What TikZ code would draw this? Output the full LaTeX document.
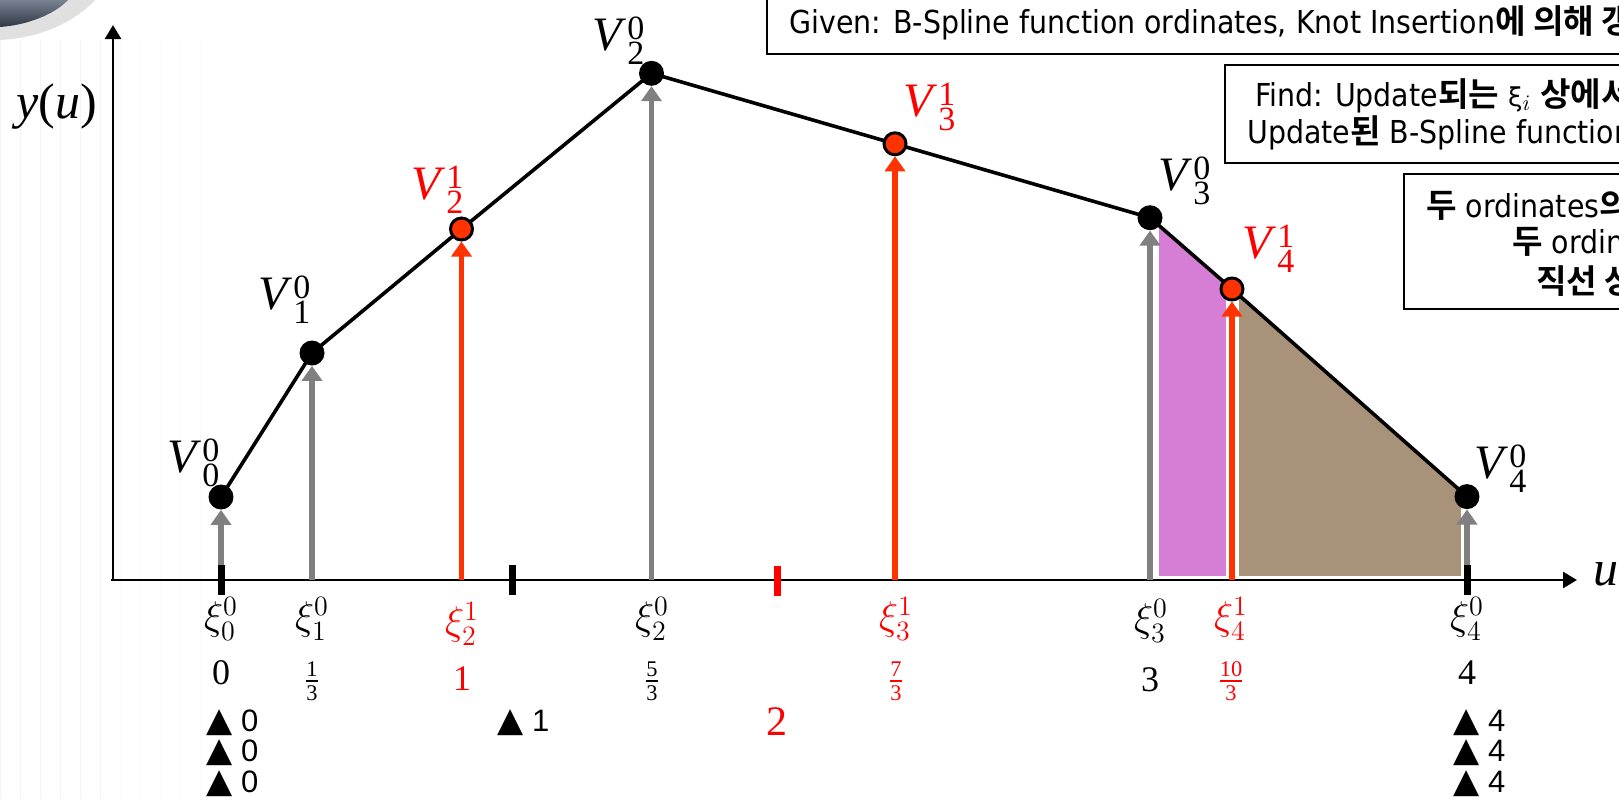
\RequirePackage{fix-cm}
\documentclass[tikz,border=0pt]{standalone}
\usepackage{amsmath}
\usepackage{fontspec}
\setmainfont{Liberation Serif}
\newfontfamily\symfont{DejaVu Sans}
\newfontfamily\arialfont{Liberation Sans}
\IfFontExistsTF{DejaVu Sans Condensed}
  {\newfontfamily\boxfont{DejaVu Sans Condensed}}
  {\newfontfamily\boxfont[FakeStretch=0.9]{DejaVu Sans}}
\IfFontExistsTF{Noto Sans CJK KR Bold}
  {\newfontfamily\krb[Scale=1.05]{Noto Sans CJK KR Bold}}
  {\newfontfamily\krb[Scale=1.05,FakeBold=2]{Noto Sans CJK KR}}
\usetikzlibrary{arrows.meta}
\pgfdeclarelayer{back}
\pgfdeclarelayer{bg}
\pgfsetlayers{back,bg,main}
\definecolor{stemgray}{RGB}{128,128,128}
\definecolor{stemred}{RGB}{255,51,0}
\definecolor{lblred}{RGB}{255,0,0}
\definecolor{magfill}{RGB}{214,125,214}
\definecolor{brownfill}{RGB}{168,146,122}
\definecolor{blobdark}{RGB}{48,56,70}
\definecolor{bloblight}{RGB}{120,130,145}
\newcommand\K[1]{{\krb #1}}
\newcommand\Vlab[2]{\textit{V}\kern0.5pt\rlap{\raisebox{5.5pt}{\fontsize{17}{17}\selectfont #1}}\raisebox{-7pt}{\fontsize{17}{17}\selectfont #2}}
\newcommand\myfrac[2]{$\frac{\text{#1}}{\text{#2}}$}
\tikzset{
  axisline/.style={line width=1.3pt, -{Triangle[width=8pt,length=7pt]}},
  polyline/.style={line width=1.8pt, line join=round},
  gstem/.style={color=stemgray, line width=2.6pt, -{Triangle[width=10pt,length=7.5pt]}},
  rstem/.style={color=stemred, line width=2.6pt, -{Triangle[width=10pt,length=7.5pt]}},
  bdot/.style={circle, fill=black, minimum size=12.5pt, inner sep=0pt},
  rdot/.style={circle, fill=stemred, draw=black, line width=1.5pt, minimum size=11pt, inner sep=0pt},
  btick/.style={rectangle, fill=black, minimum width=3.5pt, minimum height=15pt, inner sep=0pt},
  rtick/.style={rectangle, fill=lblred, minimum width=3.5pt, minimum height=15pt, inner sep=0pt},
  vlabel/.style={anchor=base west, inner sep=0pt, font=\fontsize{24}{28}\selectfont},
  xilabel/.style={anchor=north, inner sep=0pt, font=\fontsize{20}{22}\selectfont},
  numlabel/.style={inner sep=0pt, font=\fontsize{18}{20}\selectfont},
  fraclabel/.style={inner sep=0pt, font=\fontsize{16}{18}\selectfont},
  trilabel/.style={anchor=west, inner sep=0pt, font=\arialfont\fontsize{15.5}{17}\selectfont},
  boxline/.style={draw=black, line width=1pt},
  boxtext/.style={anchor=base west, inner sep=0pt, font=\boxfont\fontsize{15.8}{18}\selectfont},
}
\newcommand\tri{{\symfont\fontsize{17}{17}\selectfont ▲}}
\begin{document}
\begin{tikzpicture}[x=0.5pt, y=-0.5pt]
\useasboundingbox (0,0) rectangle (1619,799);
\begin{pgfonlayer}{back}
  \fill[white] (0,0) rectangle (1619,799);
  \draw[step=20, black!4, line width=0.3pt] (0,40) grid (110,799);
  \draw[step=20, black!2, line width=0.3pt] (110,40) grid (200,799);
  \fill[black!12] (0,0) -- (0,40) .. controls (40,38) and (75,22) .. (95,0) -- cycle;
  \shade[top color=bloblight, bottom color=blobdark] (0,0) -- (0,27) .. controls (28,25) and (55,14) .. (68,0) -- cycle;
\end{pgfonlayer}

% points of the polygon
\node[bdot] (v0) at (221,497) {};
\node[bdot] (v1) at (312,353) {};
\node[rdot] (v21) at (461.5,229) {};
\node[bdot] (v2) at (651.5,73.3) {};
\node[rdot] (v31) at (895,143.8) {};
\node[bdot] (v3) at (1150,217.7) {};
\node[rdot] (v41) at (1232,289) {};
\node[bdot] (v4) at (1467,496.6) {};

% axis feet of the ordinates
\coordinate (s0) at (221,580);
\coordinate (s1) at (312,580);
\coordinate (s21) at (461.5,580);
\coordinate (s2) at (651.5,580);
\coordinate (s31) at (895,580);
\coordinate (s3) at (1150,580);
\coordinate (s41) at (1232,580);
\coordinate (s4) at (1467,580);
\coordinate (origin) at (113,580);
\coordinate (ytip) at (113,25);
\coordinate (xstart) at (111,580);
\coordinate (xtip) at (1577,580);

\begin{pgfonlayer}{bg}
  \fill[magfill, draw=white, line width=0.8pt] (1158,577) -- (1158,224.7) -- (1227,285.4) -- (1227,577) -- cycle;
  \fill[brownfill, draw=white, line width=0.8pt] (1238,577) -- (1238,295.1) -- (1462,492.2) -- (1462,577) -- cycle;
  \draw[axisline] (origin) -- (ytip);
  \draw[axisline] (xstart) -- (xtip);
  \draw[gstem] (s0) -- (v0);
  \draw[gstem] (s1) -- (v1);
  \draw[rstem] (s21) -- (v21);
  \draw[gstem] (s2) -- (v2);
  \draw[rstem] (s31) -- (v31);
  \draw[gstem] (s3) -- (v3);
  \draw[rstem] (s41) -- (v41);
  \draw[gstem] (s4) -- (v4);
  \draw[polyline] (v0.center) -- (v1.center) -- (v21.center) -- (v2.center) -- (v31.center) -- (v3.center) -- (v41.center) -- (v4.center);
\end{pgfonlayer}

% knot ticks
\node[btick] (k0) at (221,580) {};
\node[btick] (k1) at (512,580) {};
\node[rtick] (k2) at (777,581) {};
\node[btick] (k4) at (1467,580) {};

% axis labels
\node[inner sep=0pt, font=\fontsize{25}{28}\selectfont] (ylab) at (57,107) {\textit{y}(\textit{u})};
\node[anchor=base west, inner sep=0pt, font=\fontsize{25}{28}\selectfont] (ulab) at (1593,585) {\textit{u}};

% vertex labels
\node[vlabel] (l0) at (167,472) {\Vlab{0}{0}};
\node[vlabel] (l1) at (258,309) {\Vlab{0}{1}};
\node[vlabel, lblred] (l21) at (411,199) {\Vlab{1}{2}};
\node[vlabel] (l2) at (592,50) {\Vlab{0}{2}};
\node[vlabel, lblred] (l31) at (903,116) {\Vlab{1}{3}};
\node[vlabel] (l3) at (1158,190) {\Vlab{0}{3}};
\node[vlabel, lblred] (l41) at (1242,258) {\Vlab{1}{4}};
\node[vlabel] (l4) at (1474,478) {\Vlab{0}{4}};

% knot labels
\node[xilabel] (x0) at (221,597) {$\xi^{0}_{0}$};
\node[xilabel] (x1) at (312,597) {$\xi^{0}_{1}$};
\node[xilabel, lblred] (x21) at (462,602) {$\xi^{1}_{2}$};
\node[xilabel] (x2) at (652,597) {$\xi^{0}_{2}$};
\node[xilabel, lblred] (x31) at (896,597) {$\xi^{1}_{3}$};
\node[xilabel] (x3) at (1151,599) {$\xi^{0}_{3}$};
\node[xilabel, lblred] (x41) at (1231,597) {$\xi^{1}_{4}$};
\node[xilabel] (x4) at (1467,597) {$\xi^{0}_{4}$};

% values
\node[numlabel] (n0) at (221,673) {0};
\node[fraclabel] (n1) at (312,681) {\myfrac{1}{3}};
\node[numlabel, lblred] (n21) at (462,679) {1};
\node[fraclabel] (n2) at (652,681) {\myfrac{5}{3}};
\node[numlabel, lblred, font=\fontsize{21}{23}\selectfont] (n22) at (777,722) {2};
\node[fraclabel, lblred] (n31) at (896,681) {\myfrac{7}{3}};
\node[numlabel] (n3) at (1150,680) {3};
\node[fraclabel, lblred] (n41) at (1231,681) {\myfrac{10}{3}};
\node[numlabel] (n4) at (1467,673) {4};

% knot multiplicities
\node[trilabel] (t00) at (206,723) {\tri{} 0};
\node[trilabel] (t01) at (206,753) {\tri{} 0};
\node[trilabel] (t02) at (206,784) {\tri{} 0};
\node[trilabel] (t1) at (497,723) {\tri{} 1};
\node[trilabel] (t40) at (1453,723) {\tri{} 4};
\node[trilabel] (t41) at (1453,753) {\tri{} 4};
\node[trilabel] (t42) at (1453,784) {\tri{} 4};

% text boxes
\draw[boxline] (767,-5) rectangle (1700,54);
\node[boxtext] (given) at (789,33) {Given: B-Spline function ordinates, Knot Insertion\K{에 의해 갱신}};
\draw[boxline] (1225,65) rectangle (1700,163);
\node[boxtext] (find1) at (1255,106) {Find: Update\K{되는} {\symfont\fontsize{13}{14}\selectfont ξ}$_i$ \K{상에서}};
\node[boxtext] (find2) at (1247,143) {Update\K{된} B-Spline function};
\draw[boxline] (1404,174) rectangle (1700,309);
\node[boxtext] (rule1) at (1426,217) {\K{두} ordinates\K{의}};
\node[boxtext] (rule2) at (1512,253) {\K{두} ordinates};
\node[boxtext] (rule3) at (1536,293) {\K{직선 상에}};
\end{tikzpicture}
\end{document}
